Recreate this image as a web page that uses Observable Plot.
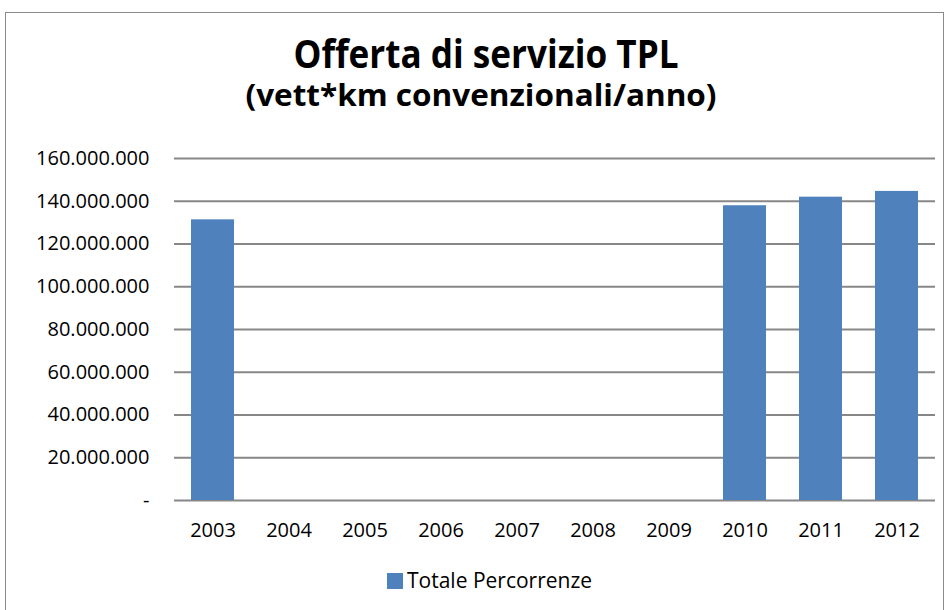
<!DOCTYPE html>
<html>
<head>
<meta charset="utf-8">
<script src="https://cdn.jsdelivr.net/npm/d3@7"></script>
<script src="https://cdn.jsdelivr.net/npm/@observablehq/plot@0.6"></script>
<style>
  html, body { margin: 0; padding: 0; background: #fff; }
  body { width: 948px; height: 610px; position: relative; overflow: hidden; font-family: "Open Sans", Lato, sans-serif; }
  #frame { position: absolute; left: 5px; top: 12px; width: 939px; height: 620px; border: 1px solid #8a8a8a; box-sizing: border-box; }
  .title { position: absolute; font-weight: bold; color: #000; white-space: nowrap; font-family: "Open Sans", sans-serif; line-height: 1; }
  #t1 { top: 33px; left: 486px; font-size: 39px; transform: translateX(-50%) scaleX(0.9); }
  #t2 { top: 80px; left: 481px; font-size: 30px; transform: translateX(-50%) scaleX(1.05); }
  #chart { position: absolute; left: 0; top: 130px; }
  #legend { position: absolute; left: 387px; top: 568px; display: flex; align-items: center; font-size: 21px; color: #000; line-height: 1.2; }
  #legend .sw { width: 16px; height: 16px; background: #4F81BD; margin-right: 4px; }
</style>
</head>
<body>
<div id="frame"></div>
<div class="title" id="t1">Offerta di servizio TPL</div>
<div class="title" id="t2">(vett*km convenzionali/anno)</div>
<div id="chart"></div>
<div id="legend"><div class="sw"></div><span>Totale Percorrenze</span></div>
<script>
const years = ["2003", "2004", "2005", "2006", "2007", "2008", "2009", "2010", "2011", "2012"];
const percorrenze = [131300000, null, null, null, null, null, null, 137900000, 141900000, 144600000];
const yTicks = [0, 20000000, 40000000, 60000000, 80000000, 100000000, 120000000, 140000000, 160000000];
const seriesName = "Totale Percorrenze";

const data = years.map((year, i) => ({year, value: percorrenze[i]}));
const it = d3.formatLocale({decimal: ",", thousands: ".", grouping: [3], currency: ["€", ""]});
const fmtNum = it.format(",d");
const fmt = v => v === 0 ? "-" : fmtNum(v);

const chart = Plot.plot({
  width: 948,
  height: 420,
  marginTop: 28,
  marginBottom: 50,
  marginLeft: 174,
  marginRight: 13,
  style: {fontFamily: "'Open Sans', Lato, sans-serif", fontSize: "20px", color: "#000", background: "transparent"},
  x: {domain: years, paddingInner: 0.43, paddingOuter: 0.215, label: null, tickSize: 0, tickPadding: 22},
  y: {domain: [0, 160000000], ticks: yTicks, tickFormat: fmt, label: null, tickSize: 0, tickPadding: 25},
  marks: [
    Plot.ruleY(yTicks, {stroke: "#878787", strokeWidth: 2}),
    Plot.barY(data, {x: "year", y: "value", fill: "#4F81BD"})
  ]
});
document.getElementById("chart").appendChild(chart);
document.querySelector("#legend span").textContent = seriesName;
</script>
</body>
</html>
